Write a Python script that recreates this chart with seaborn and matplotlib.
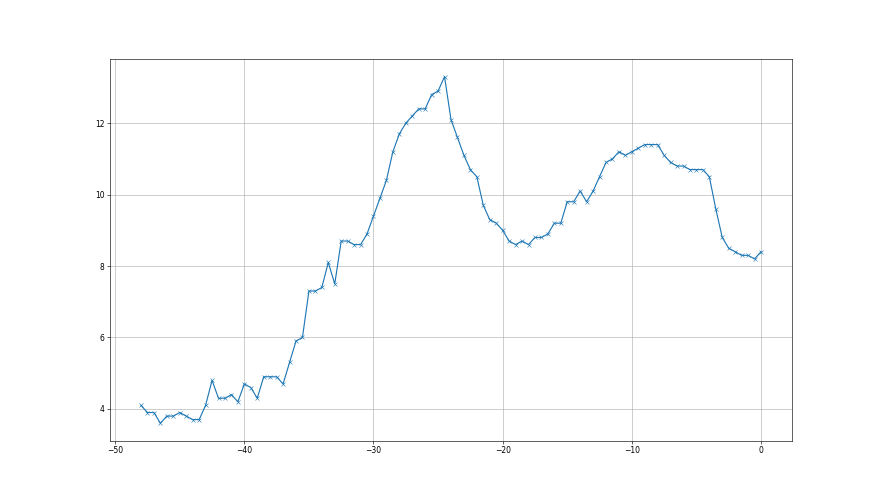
import numpy as np
import pandas as pd
import matplotlib
matplotlib.use('Agg')
import matplotlib.pyplot as plt
import seaborn as sns

# x positions every half unit from -48 to 0
x_values = [
    -48.0, -47.5, -47.0, -46.5, -46.0, -45.5, -45.0, -44.5, -44.0, -43.5,
    -43.0, -42.5, -42.0, -41.5, -41.0, -40.5, -40.0, -39.5, -39.0, -38.5,
    -38.0, -37.5, -37.0, -36.5, -36.0, -35.5, -35.0, -34.5, -34.0, -33.5,
    -33.0, -32.5, -32.0, -31.5, -31.0, -30.5, -30.0, -29.5, -29.0, -28.5,
    -28.0, -27.5, -27.0, -26.5, -26.0, -25.5, -25.0, -24.5, -24.0, -23.5,
    -23.0, -22.5, -22.0, -21.5, -21.0, -20.5, -20.0, -19.5, -19.0, -18.5,
    -18.0, -17.5, -17.0, -16.5, -16.0, -15.5, -15.0, -14.5, -14.0, -13.5,
    -13.0, -12.5, -12.0, -11.5, -11.0, -10.5, -10.0, -9.5, -9.0, -8.5,
    -8.0, -7.5, -7.0, -6.5, -6.0, -5.5, -5.0, -4.5, -4.0, -3.5,
    -3.0, -2.5, -2.0, -1.5, -1.0, -0.5, 0.0,
]
y_values = [
    4.1, 3.9, 3.9, 3.6, 3.8, 3.8, 3.9, 3.8, 3.7, 3.7,
    4.1, 4.8, 4.3, 4.3, 4.4, 4.2, 4.7, 4.6, 4.3, 4.9,
    4.9, 4.9, 4.7, 5.3, 5.9, 6.0, 7.3, 7.3, 7.4, 8.1,
    7.5, 8.7, 8.7, 8.6, 8.6, 8.9, 9.4, 9.9, 10.4, 11.2,
    11.7, 12.0, 12.2, 12.4, 12.4, 12.8, 12.9, 13.3, 12.1, 11.6,
    11.1, 10.7, 10.5, 9.7, 9.3, 9.2, 9.0, 8.7, 8.6, 8.7,
    8.6, 8.8, 8.8, 8.9, 9.2, 9.2, 9.8, 9.8, 10.1, 9.8,
    10.1, 10.5, 10.9, 11.0, 11.2, 11.1, 11.2, 11.3, 11.4, 11.4,
    11.4, 11.1, 10.9, 10.8, 10.8, 10.7, 10.7, 10.7, 10.5, 9.6,
    8.8, 8.5, 8.4, 8.3, 8.3, 8.2, 8.4,
]

df = pd.DataFrame({'x': x_values, 'y': y_values})

fig, ax = plt.subplots(figsize=(16, 9), dpi=55)
sns.lineplot(data=df, x='x', y='y', marker='x', color='tab:blue',
             markeredgecolor='tab:blue', ax=ax)
ax.grid(True, color='#b0b0b0', linewidth=0.8)
ax.set_xlabel('')
ax.set_ylabel('')
ax.set_yticks([4, 6, 8, 10, 12])

plt.savefig('out.png', dpi=55)
